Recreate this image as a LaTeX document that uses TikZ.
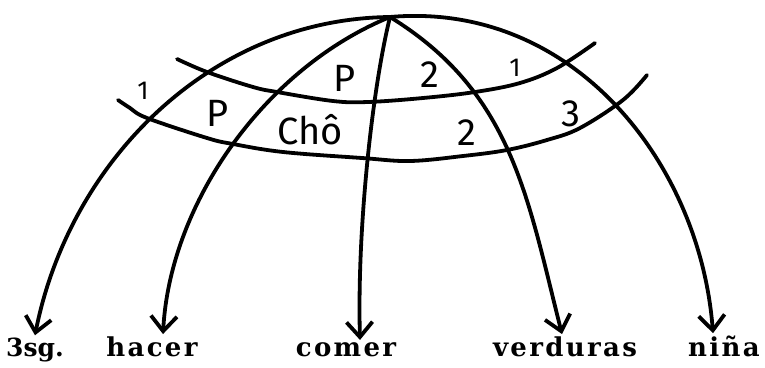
\documentclass[tikz,border=0pt]{standalone}
\usepackage{fontspec}
\usetikzlibrary{arrows.meta}
\newfontfamily\handfont{Fira Sans}
\newfontfamily\wordfont[LetterSpace=9.0]{DejaVu Serif}
\newfontfamily\sgfont{DejaVu Serif}
\tikzset{
	inkline/.style={line width=3.8pt, line cap=round, line join=round},
	pointer/.style={inkline, -{Straight Barb[length=15pt,width=26pt,line width=3.8pt]}},
	hand/.style={inner sep=0pt, font=\handfont\fontsize{38}{40}\selectfont},
	handsmall/.style={inner sep=0pt, font=\handfont\fontsize{26}{28}\selectfont},
	word/.style={anchor=base, inner sep=2pt, font=\wordfont\bfseries\fontsize{26}{28}\selectfont}
}
\begin{document}
\begin{tikzpicture}[x=1pt, y=-1pt]
	\useasboundingbox (0,0) rectangle (765,367);
	\begin{scope}
		% the words at the bottom
		\node[word, font=\sgfont\bfseries\fontsize{25}{28}\selectfont] (sg) at (35,356) {3sg.};
		\node[word] (hacer) at (152,356) {hacer};
		\node[word] (comer) at (346,356) {comer};
		\node[word] (verduras) at (565,356) {verduras};
		\node[word] (nina) at (724,356) {niña};
		\coordinate (top) at (390,17);
		% the five lines from the top
		\draw[pointer] (top) .. controls (209,19) and (69,163) .. (sg.north);
		\draw[pointer] (top) .. controls (265,68) and (170,203) .. ([xshift=11pt]hacer.north);
		\draw[pointer] (top) .. controls (372,90) and (357,230) .. ([xshift=14pt]comer.north);
		\draw[pointer] (top) .. controls (512,92) and (527,196) .. ([xshift=-3pt]verduras.north);
		\draw[pointer] (top) .. controls (573,1) and (700,163) .. ([xshift=-11pt]nina.north);
	\end{scope}
	\begin{scope}
		% the two bands
		\draw[inkline] plot[smooth, tension=0.6] coordinates {(177,59) (207,72) (253,87) (277,92) (333,101) (368,102) (423,98) (475,92) (520,83) (557,68) (595,43)};
		\draw[inkline] plot[smooth, tension=0.6] coordinates {(118,100) (130,108) (147,118) (207,138) (233,144) (283,152) (362,158) (410,161) (463,156) (507,150) (547,140) (580,128) (623,100) (647,75)};
		\node[handsmall] (one) at (143,91) {1};
		\node[hand] (pleft) at (218,113) {P};
		\node[hand] (pup) at (345,78) {P};
		\node[hand] (cho) at (310,130) {Chô};
		\node[hand] (twoup) at (430,75) {2};
		\node[handsmall] (oneright) at (515,68) {1};
		\node[hand] (twolow) at (467,133) {2};
		\node[hand] (three) at (571,114) {3};
	\end{scope}
\end{tikzpicture}
\end{document}
